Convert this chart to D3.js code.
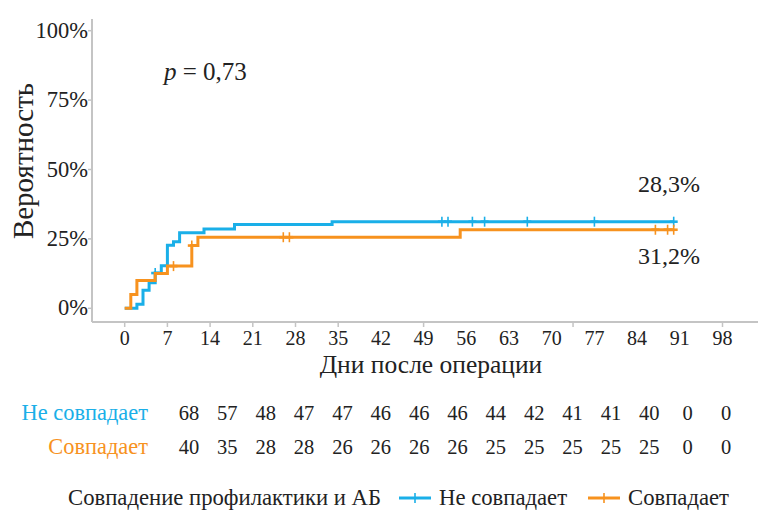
<!DOCTYPE html>
<html>
<head>
<meta charset="utf-8">
<script src="https://cdn.jsdelivr.net/npm/d3@7"></script>
<style>
  html, body { margin: 0; padding: 0; background: #fff; }
  svg { display: block; font-family: "Liberation Serif", "Times New Roman", serif; }
</style>
</head>
<body>
<svg id="chart" width="758" height="512"></svg>
<script>
// ---- data ----
const seriesNames = ["Не совпадает", "Совпадает"];
const seriesColors = ["#1AAFE8", "#F7921E"];

// cumulative incidence (%) step points: [day, value]
const blueTimes  = [0, 2, 3, 4, 5, 6, 7, 8, 9, 13, 18, 34, 90];
const blueValues = [0, 1.5, 6.5, 9.2, 12.7, 15.3, 22.7, 24.0, 27.2, 28.6, 30.2, 31.2, 31.2];
const blueCensorTimes = [5, 52, 53, 57, 59, 66, 77, 90];

const orangeTimes  = [0, 1, 2, 5, 7, 11, 12, 55, 90];
const orangeValues = [0, 5.0, 10.0, 12.5, 15.2, 22.6, 25.6, 28.3, 28.3];
const orangeCensorTimes = [8, 11, 26, 27, 87, 89, 90];

const xTickLabels = [0, 7, 14, 21, 28, 35, 42, 49, 56, 63, 70, 77, 84, 91, 98];
const xTickMarks  = [0, 7, 14, 21, 28, 35, 49, 73.5, 98];
const yTicks = [0, 25, 50, 75, 100];

const riskBlue   = [68, 57, 48, 47, 47, 46, 46, 46, 44, 42, 41, 41, 40, 0, 0];
const riskOrange = [40, 35, 28, 28, 26, 26, 26, 26, 25, 25, 25, 25, 25, 0, 0];

const pText = "0,73";
const endLabels = ["28,3%", "31,2%"];
const legendTitle = "Совпадение профилактики и АБ";
const xTitle = "Дни после операции";
const yTitle = "Вероятность";

// ---- helpers ----
const svg = d3.select("#chart");
function addText(parent, x, y, size, str, opts = {}) {
  const rot = opts.rotate ? ` rotate(${opts.rotate})` : "";
  return parent.append("text")
    .attr("transform", `translate(${x},${y})${rot}`)
    .attr("x", 0).attr("y", 0)
    .style("font-size", size + "px")
    .attr("text-anchor", opts.anchor || "start")
    .attr("fill", opts.fill || "#222")
    .text(str);
}

// ---- layout ----
const axisX0 = 92, axisX1 = 758, axisYTop = 19, axisYBottom = 322;
const axisColor = "#c4c4c4";

const x = d3.scaleLinear().domain([0, 98]).range([124.7, 722.5]);
const y = d3.scaleLinear().domain([0, 100]).range([308.3, 30.7]);

// axes lines
svg.append("line").attr("x1", axisX0).attr("x2", axisX0).attr("y1", axisYTop).attr("y2", axisYBottom)
  .attr("stroke", axisColor).attr("stroke-width", 2);
svg.append("line").attr("x1", axisX0).attr("x2", axisX1).attr("y1", axisYBottom).attr("y2", axisYBottom)
  .attr("stroke", axisColor).attr("stroke-width", 2);

// y axis ticks + labels
const gy = svg.append("g");
yTicks.forEach(v => {
  gy.append("line").attr("x1", axisX0 - 4).attr("x2", axisX0).attr("y1", y(v)).attr("y2", y(v))
    .attr("stroke", axisColor).attr("stroke-width", 1.5);
  addText(gy, axisX0 - 4, y(v) + 7, 22.5, v + "%", { anchor: "end" });
});

// x axis tick marks
svg.append("g").selectAll("line").data(xTickMarks).join("line")
  .attr("x1", d => x(d)).attr("x2", d => x(d))
  .attr("y1", axisYBottom).attr("y2", axisYBottom + 5)
  .attr("stroke", axisColor).attr("stroke-width", 1.5);
// x axis labels
const gx = svg.append("g");
xTickLabels.forEach(d => addText(gx, x(d), 345, 20, d, { anchor: "middle" }));

// titles
addText(svg, 431, 373, 25.5, xTitle, { anchor: "middle" });
addText(svg, 33, 161, 29, yTitle, { anchor: "middle", rotate: -90 });

// p value
const pt = addText(svg, 164, 80, 25, "");
pt.append("tspan").attr("font-style", "italic").text("p");
pt.append("tspan").text(" = " + pText);

// curves
const line = d3.line().x(d => x(d[0])).y(d => y(d[1])).curve(d3.curveStepAfter);
const series = [
  { times: blueTimes, values: blueValues, censor: blueCensorTimes, color: seriesColors[0] },
  { times: orangeTimes, values: orangeValues, censor: orangeCensorTimes, color: seriesColors[1] }
];
function valueAt(s, t) {
  let v = 0;
  s.times.forEach((tt, i) => { if (tt <= t) v = s.values[i]; });
  return v;
}
series.forEach(s => {
  const pts = s.times.map((t, i) => [t, s.values[i]]);
  svg.append("path").datum(pts).attr("d", line).attr("fill", "none")
    .attr("stroke", s.color).attr("stroke-width", 3);
  const g = svg.append("g");
  s.censor.forEach(t => {
    const cx = x(t), cy = y(valueAt(s, t));
    g.append("line").attr("x1", cx).attr("x2", cx).attr("y1", cy - 5).attr("y2", cy + 5)
      .attr("stroke", s.color).attr("stroke-width", 1.6);
    g.append("line").attr("x1", cx - 4).attr("x2", cx + 4).attr("y1", cy).attr("y2", cy)
      .attr("stroke", s.color).attr("stroke-width", 2.6);
  });
});

// end labels
addText(svg, 669, 192, 24, endLabels[0], { anchor: "middle" });
addText(svg, 669, 264, 24, endLabels[1], { anchor: "middle" });

// risk table
const riskX = d3.scalePoint().domain(xTickLabels).range([189, 726]);
const riskRows = [
  { name: seriesNames[0], vals: riskBlue, color: seriesColors[0], y: 420 },
  { name: seriesNames[1], vals: riskOrange, color: seriesColors[1], y: 454 }
];
riskRows.forEach(r => {
  addText(svg, 148, r.y, 22.4, r.name, { anchor: "end", fill: r.color });
  const g = svg.append("g");
  r.vals.forEach((v, i) => addText(g, riskX(xTickLabels[i]), r.y, 20.5, v, { anchor: "middle" }));
});

// legend
const legY = 498;
addText(svg, 68, legY + 7, 22.7, legendTitle);
const legItems = [
  { name: seriesNames[0], color: seriesColors[0], x0: 399 },
  { name: seriesNames[1], color: seriesColors[1], x0: 588 }
];
legItems.forEach(it => {
  svg.append("line").attr("x1", it.x0).attr("x2", it.x0 + 32).attr("y1", legY).attr("y2", legY)
    .attr("stroke", it.color).attr("stroke-width", 3);
  svg.append("line").attr("x1", it.x0 + 16).attr("x2", it.x0 + 16).attr("y1", legY - 5).attr("y2", legY + 5)
    .attr("stroke", it.color).attr("stroke-width", 1.6);
  addText(svg, it.x0 + 40, legY + 7, 22.7, it.name);
});
</script>
</body>
</html>
